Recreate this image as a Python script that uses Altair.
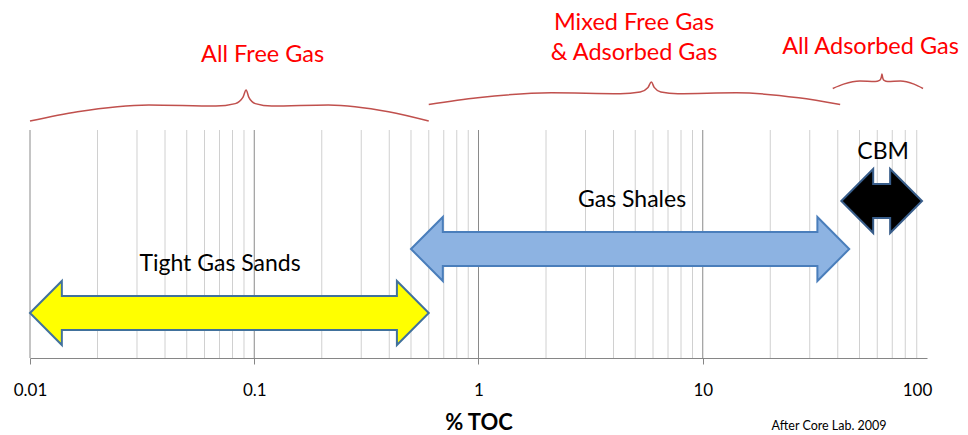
import math
import altair as alt
import pandas as pd

# ---------------- data ----------------
decades = [0.01, 0.1, 1, 10]
tick_values = [0.01, 0.1, 1, 10, 100]
minor_multipliers = [2, 3, 4, 5, 6, 7, 8, 9]

arrow_names = ["Tight Gas Sands", "Gas Shales", "CBM"]
arrow_start = [0.01, 0.5, 41.5]
arrow_end = [0.6, 45.0, 95.0]
arrow_level = [45, 109, 157]
arrow_label_x = [0.0704, 4.84, 63.7]
arrow_fill = ["#ffff00", "#8db3e2", "#000000"]
arrow_line = ["#41719c", "#4a7ebb", "#385d8a"]

brace_labels = ["All Free Gas", "Mixed Free Gas\n& Adsorbed Gas", "All Adsorbed Gas"]
brace_start = [0.01, 0.6, 38.0]
brace_end = [0.6, 41.0, 96.0]
brace_tip = [0.092, 5.9, 63.0]
brace_end_level = [237, 253.5, 269.5]
brace_tip_level = [268, 276, 284]
brace_label_x = [0.109, 4.94, 56.0]
brace_label_level = [303, 335, 311]

credit_text = ["After Core Lab. 2009"]
credit_x = [36.6]
credit_level = [-68]

# ---------------- styling constants ----------------
FONT = "Lato"
GRID_TOP = 228
HEAD = 0.142      # arrow head length in decades
EPS = 1e-5
SHAFT = 17        # shaft half height
HEADH = 32        # head half height
LABEL_LIFT = 49
PROFILE = [(0, 0), (0.22, 0.3), (0.55, 0.52), (0.86, 0.48), (0.95, 0.56), (0.985, 0.76), (1, 1)]

# ---------------- derived tables ----------------
grid_df = pd.DataFrame(
    [{"x": d * m, "kind": "minor"} for d in decades for m in minor_multipliers]
    + [{"x": d, "kind": "major"} for d in decades]
)

arrow_rows = []
for n, a0, a1, lv in zip(arrow_names, arrow_start, arrow_end, arrow_level):
    la, lb = math.log10(a0), math.log10(a1)
    pts = [(la, 0, 0), (la + HEAD, HEADH, -HEADH), (la + HEAD + EPS, SHAFT, -SHAFT),
           (lb - HEAD - EPS, SHAFT, -SHAFT), (lb - HEAD, HEADH, -HEADH), (lb, 0, 0)]
    for i, (lx, up, dn) in enumerate(pts):
        arrow_rows.append({"name": n, "i": i, "x": 10 ** lx, "top": lv + up, "bot": lv + dn})
arrow_df = pd.DataFrame(arrow_rows)

arrow_label_df = pd.DataFrame({
    "name": arrow_names,
    "x": arrow_label_x,
    "y": [lv + LABEL_LIFT for lv in arrow_level],
})

brace_rows = []
for k, (s, t, e, b0, b1) in enumerate(zip(brace_start, brace_tip, brace_end, brace_end_level, brace_tip_level)):
    ls, lt, le = math.log10(s), math.log10(t), math.log10(e)
    pts = [(ls + u * (lt - ls), v) for u, v in PROFILE]
    pts += [(le - u * (le - lt), v) for u, v in reversed(PROFILE[:-1])]
    for i, (lx, v) in enumerate(pts):
        brace_rows.append({"b": k, "i": i, "x": 10 ** lx, "y": b0 + (b1 - b0) * v})
brace_df = pd.DataFrame(brace_rows)

brace_label_df = pd.DataFrame({"label": brace_labels, "x": brace_label_x, "y": brace_label_level})
credit_df = pd.DataFrame({"label": credit_text, "x": credit_x, "y": credit_level})

# ---------------- scales / axis ----------------
XS = alt.Scale(type="log", domain=[0.01, 100], nice=False, zero=False)
YS = alt.Scale(domain=[0, 350], nice=False, zero=False)
AX = alt.Axis(
    values=tick_values, format="~g", grid=False, labelFlush=False,
    domainColor="#868686", tickColor="#868686", tickSize=6,
    tickOpacity={"condition": {"test": "datum.value >= 100", "value": 0}, "value": 1},
    labelOffset={"condition": {"test": "datum.value >= 100", "value": -10}, "value": 0},
    labelFont=FONT, labelFontSize=17, labelColor="#000000", labelPadding=18,
    title="% TOC", titleFont=FONT, titleFontSize=22, titleFontWeight="bold",
    titleColor="#000000", titlePadding=14,
)


def xenc(field="x"):
    return alt.X(f"{field}:Q", scale=XS, axis=AX)


grid = alt.Chart(grid_df).mark_rule(strokeWidth=1).encode(
    x=xenc(),
    y=alt.Y(datum=0, type="quantitative", scale=YS, axis=None),
    y2=alt.Y2(datum=GRID_TOP),
    color=alt.Color("kind:N", scale=alt.Scale(domain=["minor", "major"], range=["#d0d0d0", "#8a8a8a"]), legend=None),
)

braces = alt.Chart(brace_df).mark_line(interpolate="monotone", color="#c0504d", strokeWidth=1.5).encode(
    x=xenc(),
    y=alt.Y("y:Q", scale=YS, axis=None),
    detail="b:N",
    order="i:Q",
)

arrows = alt.Chart(arrow_df).mark_area(strokeWidth=2, interpolate="linear", opacity=1).encode(
    x=xenc(),
    y=alt.Y("top:Q", scale=YS, axis=None, stack=None),
    y2="bot:Q",
    fill=alt.Fill("name:N", scale=alt.Scale(domain=arrow_names, range=arrow_fill), legend=None),
    stroke=alt.Stroke("name:N", scale=alt.Scale(domain=arrow_names, range=arrow_line), legend=None),
)

arrow_labels = alt.Chart(arrow_label_df).mark_text(font=FONT, fontSize=23, color="#000000", baseline="middle").encode(
    x=xenc(), y=alt.Y("y:Q", scale=YS, axis=None), text="name:N"
)

brace_texts = alt.Chart(brace_label_df).mark_text(
    font=FONT, fontSize=23.5, color="#ff0000", baseline="middle", lineBreak="\n", lineHeight=30
).encode(x=xenc(), y=alt.Y("y:Q", scale=YS, axis=None), text="label:N")

credit = alt.Chart(credit_df).mark_text(font=FONT, fontSize=12.5, color="#000000", baseline="middle").encode(
    x=xenc(), y=alt.Y("y:Q", scale=YS, axis=None), text="label:N"
)

chart = alt.layer(grid, braces, arrows, arrow_labels, brace_texts, credit).properties(
    width=897, height=350,
    autosize=alt.AutoSizeParams(type="none"),
    padding={"left": 22, "top": 0, "right": 33, "bottom": 77},
    background="white",
).configure_view(stroke=None)

chart.save("out.html", embed_options={"renderer": "svg", "actions": False})
